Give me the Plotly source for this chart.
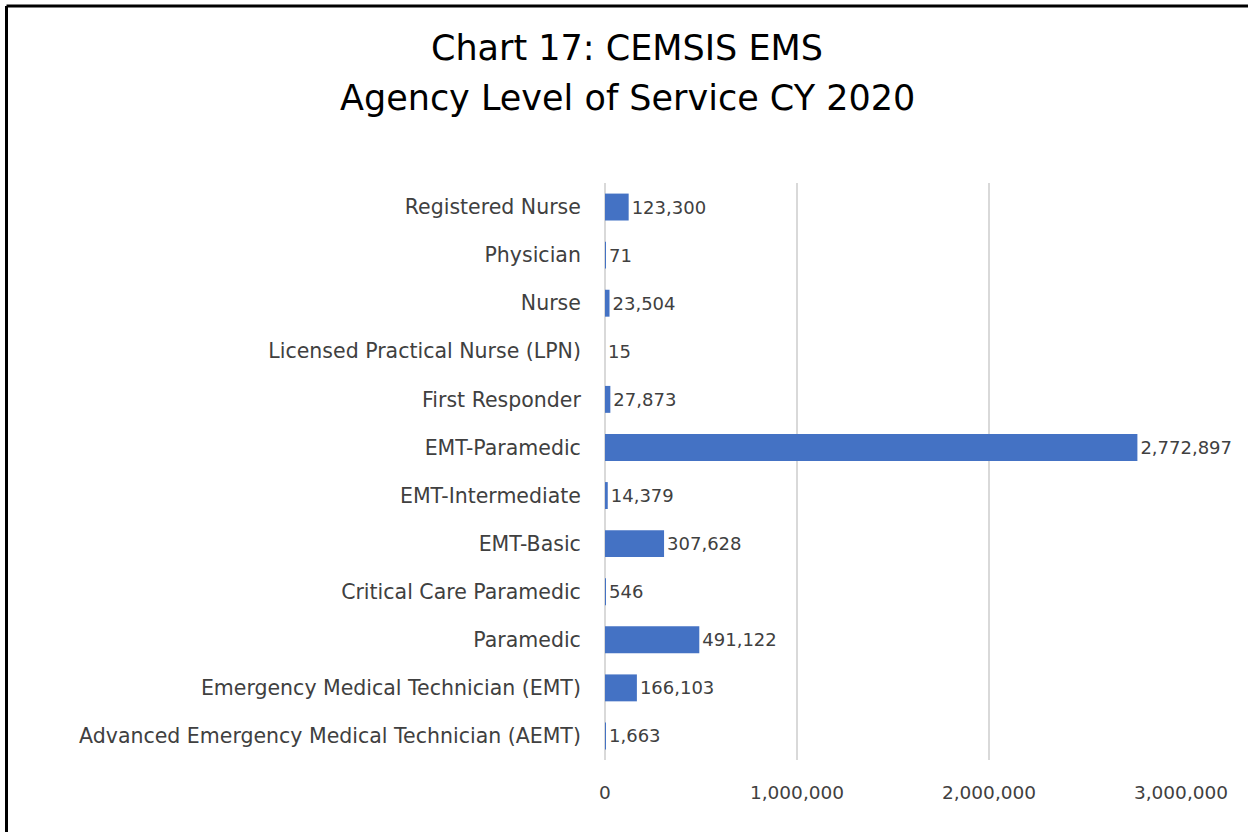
import plotly.graph_objects as go

# Service level categories, listed top to bottom
levels = [
    "Registered Nurse",
    "Physician",
    "Nurse",
    "Licensed Practical Nurse (LPN)",
    "First Responder",
    "EMT-Paramedic",
    "EMT-Intermediate",
    "EMT-Basic",
    "Critical Care Paramedic",
    "Paramedic",
    "Emergency Medical Technician (EMT)",
    "Advanced Emergency Medical Technician (AEMT)",
]
counts = [123300, 71, 23504, 15, 27873, 2772897, 14379, 307628, 546, 491122, 166103, 1663]

x_ticks = [0, 1000000, 2000000, 3000000]
x_tick_labels = ["0", "1,000,000", "2,000,000", "3,000,000"]

title_lines = ["Chart 17: CEMSIS EMS", "Agency Level of Service CY 2020"]

FONT = "DejaVu Sans"
TEXT_COLOR = "#404040"

# Plot area in pixels
L, R, T, B = 605, 67, 183, 72
W, H = 1248, 832
PW, PH = W - L - R, H - T - B

fig = go.Figure(
    go.Bar(
        x=counts,
        y=levels,
        orientation="h",
        marker=dict(color="#4472C4", line=dict(width=0)),
        text=[f"{v:,}" for v in counts],
        textposition="outside",
        cliponaxis=False,
        textfont=dict(family=FONT, size=18, color=TEXT_COLOR),
    )
)

fig.update_layout(
    width=W,
    height=H,
    paper_bgcolor="white",
    plot_bgcolor="white",
    margin=dict(l=L, r=R, t=T, b=B),
    bargap=0.44,
    showlegend=False,
    font=dict(family=FONT, color=TEXT_COLOR),
)

# Two-line title
for line, py in zip(title_lines, [48, 98]):
    fig.add_annotation(
        text=line,
        xref="paper", yref="paper",
        x=(627 - L) / PW, y=(H - B - py) / PH,
        xanchor="center", yanchor="middle",
        showarrow=False,
        font=dict(family=FONT, size=35, color="#000000"),
    )

fig.update_xaxes(
    range=[0, 3000000],
    tickvals=x_ticks,
    ticktext=x_tick_labels,
    showgrid=True,
    gridcolor="#D9D9D9",
    gridwidth=2,
    zeroline=True,
    zerolinecolor="#D9D9D9",
    zerolinewidth=2,
    showline=False,
    ticks="outside",
    ticklen=0,
    ticklabelstandoff=16,
    tickfont=dict(family=FONT, size=18.5, color=TEXT_COLOR),
)

fig.update_yaxes(
    autorange="reversed",
    showgrid=False,
    zeroline=False,
    showline=False,
    ticks="outside",
    ticklen=0,
    ticklabelstandoff=19,
    tickfont=dict(family=FONT, size=20.5, color=TEXT_COLOR),
)

# Chart frame: left and top edges, running off the page edges
frame_x = (6.5 - L) / PW
frame_y = (H - B - 6) / PH
fig.add_shape(type="line", xref="paper", yref="paper",
              x0=frame_x, x1=frame_x, y0=-(B + 4) / PH, y1=frame_y,
              line=dict(color="#000000", width=3))
fig.add_shape(type="line", xref="paper", yref="paper",
              x0=frame_x, x1=1 + (R + 4) / PW, y0=frame_y, y1=frame_y,
              line=dict(color="#000000", width=3))

fig.write_html("out.html")
